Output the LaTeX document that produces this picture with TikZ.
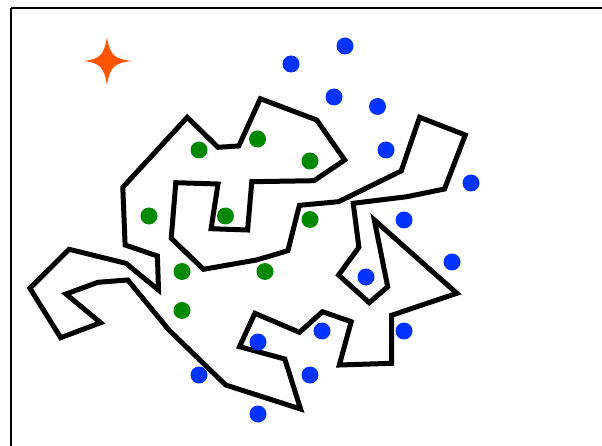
\documentclass[tikz,border=0pt]{standalone}
\definecolor{dotgreen}{RGB}{0,136,0}
\definecolor{dotblue}{RGB}{0,51,255}
\definecolor{starorange}{RGB}{255,85,0}
\tikzset{
  gdot/.style={circle,fill=dotgreen,inner sep=0pt,minimum size=17pt},
  bdot/.style={circle,fill=dotblue,inner sep=0pt,minimum size=17pt},
  wall/.style={line width=5pt,line join=miter,miter limit=10,draw=black},
  frame/.style={line width=2pt,draw=black}
}
\begin{document}
\begin{tikzpicture}[x=1pt,y=-1pt]
\useasboundingbox (0,0) rectangle (602,446);
\clip (0,0) rectangle (602,446);
\fill[white] (0,0) rectangle (602,446);
\draw[frame] (11,8) -- (640,8) (11,8) -- (11,480);
% star
\fill[starorange] (107,37) .. controls (110,55) and (114,59) .. (132,61)
  .. controls (114,63) and (110,67) .. (107,85)
  .. controls (104,67) and (100,63) .. (84,61)
  .. controls (100,59) and (104,55) .. (107,37) -- cycle;
% polygon
\draw[wall] (29.9,288.3) -- (69.1,249.3) -- (125.9,263.3) -- (158.5,290.0) -- (157.4,256.0)
 -- (125.1,245.0) -- (122.8,187.3) -- (187.3,117.3) -- (218.0,147.3) -- (238.8,146.0)
 -- (260.3,98.7) -- (316.7,120.0) -- (344.7,160.0) -- (314.0,180.7) -- (251.8,181.7)
 -- (247.6,230.0) -- (211.1,228.7) -- (218.0,184.0) -- (175.8,182.7) -- (171.2,238.3)
 -- (203.5,269.3) -- (256.4,260.0) -- (287.9,250.7) -- (299.4,205.3) -- (338.6,201.7)
 -- (401.2,171.0) -- (419.6,117.3) -- (465.3,135.0) -- (444.5,189.0) -- (406.9,196.7)
 -- (353.2,203.3) -- (358.9,247.3) -- (338.6,275.0) -- (369.3,302.7) -- (387.7,286.7)
 -- (374.3,220.0) -- (456.8,293.3) -- (391.6,315.3) -- (391.6,363.3) -- (339.3,365.0)
 -- (351.2,321.7) -- (322.5,311.7) -- (299.4,332.3) -- (254.9,313.3) -- (239.5,346.7)
 -- (284.8,359.0) -- (300.6,409.0) -- (225.7,385.0) -- (168.9,330.0) -- (127.8,280.0)
 -- (97.9,282.3) -- (66.0,294.0) -- (100.6,322.7) -- (60.7,337.7) -- cycle;
% green dots
\node[gdot] (g1) at (199,150) {};
\node[gdot] (g2) at (257.5,139) {};
\node[gdot] (g3) at (310,161) {};
\node[gdot] (g4) at (149,216) {};
\node[gdot] (g5) at (225.5,216) {};
\node[gdot] (g6) at (310,219.5) {};
\node[gdot] (g7) at (182,271.5) {};
\node[gdot] (g8) at (265,271.5) {};
\node[gdot] (g9) at (182,310.5) {};
% blue dots
\node[bdot] (b1) at (345,46) {};
\node[bdot] (b2) at (291,64) {};
\node[bdot] (b3) at (334,97) {};
\node[bdot] (b4) at (377.5,106.5) {};
\node[bdot] (b5) at (386,150) {};
\node[bdot] (b6) at (471,183) {};
\node[bdot] (b7) at (404,220) {};
\node[bdot] (b8) at (452,262) {};
\node[bdot] (b9) at (366,277) {};
\node[bdot] (b10) at (322,331) {};
\node[bdot] (b11) at (404,331) {};
\node[bdot] (b12) at (258,342) {};
\node[bdot] (b13) at (199,375) {};
\node[bdot] (b14) at (310,375) {};
\node[bdot] (b15) at (258,414) {};
\end{tikzpicture}
\end{document}
